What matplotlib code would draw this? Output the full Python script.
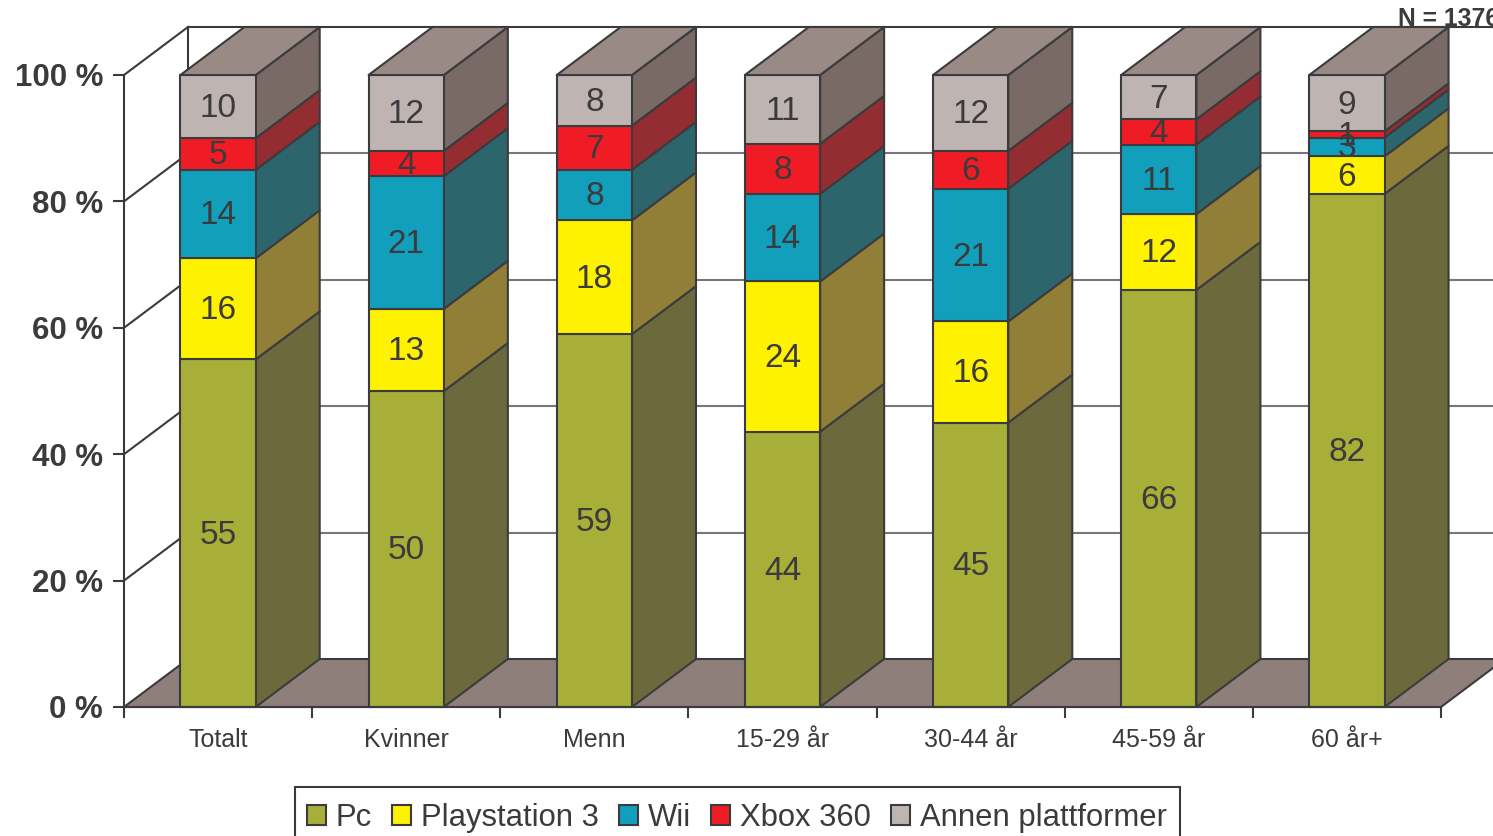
# -*- coding: utf-8 -*-
import numpy as np
import matplotlib
matplotlib.use('Agg')
import matplotlib.pyplot as plt
from matplotlib.patches import Patch, Rectangle

#data
categories = ['Totalt', 'Kvinner', 'Menn', '15-29 år', '30-44 år', '45-59 år', '60 år+']
pc = [55, 50, 59, 44, 45, 66, 82]
playstation = [16, 13, 18, 24, 16, 12, 6]
wii = [14, 21, 8, 14, 21, 11, 3]
xbox = [5, 4, 7, 8, 6, 4, 1]
annen = [10, 12, 8, 11, 12, 7, 9]
series_names = ['Pc', 'Playstation 3', 'Wii', 'Xbox 360', 'Annen plattformer']
y_ticks = [0, 20, 40, 60, 80, 100]
y_labels = ['0 %', '20 %', '40 %', '60 %', '80 %', '100 %']

#Hardcodes
W, H = 1493, 836
DARK = '#3b3a3c'
GRID = '#77767a'
FRONT = ['#a7af38', '#fff200', '#129fbc', '#ef1c25', '#beb4b1']
SIDE = ['#6c6a3d', '#917f38', '#2d656d', '#942d32', '#796a66']
TOP = '#998a85'
FLOOR = '#8e7f7b'
LW = 1.5
BAR_W = 0.4
DX = 64 / 188.14  #depth of the fake 3d, in x units
DY = 48 / 6.32    #depth of the fake 3d, in percent

plt.rcParams['font.family'] = ['Liberation Sans', 'DejaVu Sans']
fig = plt.figure(figsize=(W / 100, H / 100), dpi=100)
ax = fig.add_axes([124 / W, 1 - 707 / H, (1441 - 124) / W, (707 - 75) / H])
ax.set_xlim(0, len(categories))
ax.set_ylim(0, 100)
ax.patch.set_visible(False)


def poly(xs, ys, color, z):
    ax.fill(xs, ys, facecolor=color, edgecolor=DARK, linewidth=LW, zorder=z,
            clip_on=False, joinstyle='round')


def line(xs, ys, color, z):
    ax.plot(xs, ys, color=color, linewidth=LW, zorder=z, clip_on=False)


n = len(categories)
#floor and walls
poly([0, n, n + DX, DX], [0, 0, DY, DY], FLOOR, 1)
line([DX, DX], [DY, 100 + DY], DARK, 1)
line([DX, n + DX], [100 + DY, 100 + DY], DARK, 1)
for t in y_ticks[1:]:
    line([0, DX], [t, t + DY], DARK, 1)
for t in y_ticks[1:-1]:
    line([DX, n + DX], [t + DY, t + DY], GRID, 1)

#bars
data = np.array([pc, playstation, wii, xbox, annen], dtype=float)
shares = data / data.sum(axis=0) * 100
for i in range(n):
    x0 = i + 0.5 - BAR_W / 2
    x1 = x0 + BAR_W
    z = 2 + i
    bottom = 0.0
    for s in range(len(series_names)):
        top = bottom + shares[s, i]
        poly([x1, x1 + DX, x1 + DX, x1], [bottom, bottom + DY, top + DY, top], SIDE[s], z)
        poly([x0, x1, x1, x0], [bottom, bottom, top, top], FRONT[s], z + 0.1)
        ax.text(i + 0.5, (bottom + top) / 2 - 0.3, '%d' % data[s, i], ha='center', va='center',
                fontsize=24, color=DARK, zorder=20)
        bottom = top
    poly([x0, x1, x1 + DX, x0 + DX], [100, 100, 100 + DY, 100 + DY], TOP, z + 0.2)

#axes
for side in ['top', 'right']:
    ax.spines[side].set_visible(False)
for side in ['left', 'bottom']:
    ax.spines[side].set_color(DARK)
    ax.spines[side].set_linewidth(LW)
    ax.spines[side].set_zorder(15)
ax.set_yticks(y_ticks)
ax.set_yticklabels(y_labels, fontsize=22.5, fontweight='bold', color=DARK)
ax.tick_params(axis='y', length=8, width=LW, color=DARK, pad=7)
ax.set_xticks(np.arange(n + 1))
ax.set_xticklabels([])
ax.tick_params(axis='x', which='major', length=8, width=LW, color=DARK)
ax.set_xticks(np.arange(n) + 0.5, minor=True)
ax.set_xticklabels(categories, minor=True, fontsize=18, color=DARK)
ax.tick_params(axis='x', which='minor', length=0, pad=15)

fig.text(1398 / W, 1 - 26 / H, 'N = 1376', fontsize=17.8, fontweight='bold', color=DARK,
         ha='left', va='baseline')

#legend frame runs off the bottom of the figure
fig.add_artist(Rectangle((295 / W, -0.02), (1180 - 295) / W, 1 - 787 / H + 0.02, transform=fig.transFigure,
                         facecolor='white', edgecolor=DARK, linewidth=LW))
handles = [Patch(facecolor=FRONT[s], edgecolor=DARK, linewidth=LW) for s in range(len(series_names))]
leg = fig.legend(handles, series_names, loc='upper left', bbox_to_anchor=(294 / W, 1 - 790 / H),
                 ncol=5, fontsize=22.3, labelcolor=DARK, frameon=False, borderaxespad=0, borderpad=0.42,
                 handlelength=0.6, handleheight=0.6, handletextpad=0.33, columnspacing=0.65)

fig.savefig('out.png', dpi=100)
